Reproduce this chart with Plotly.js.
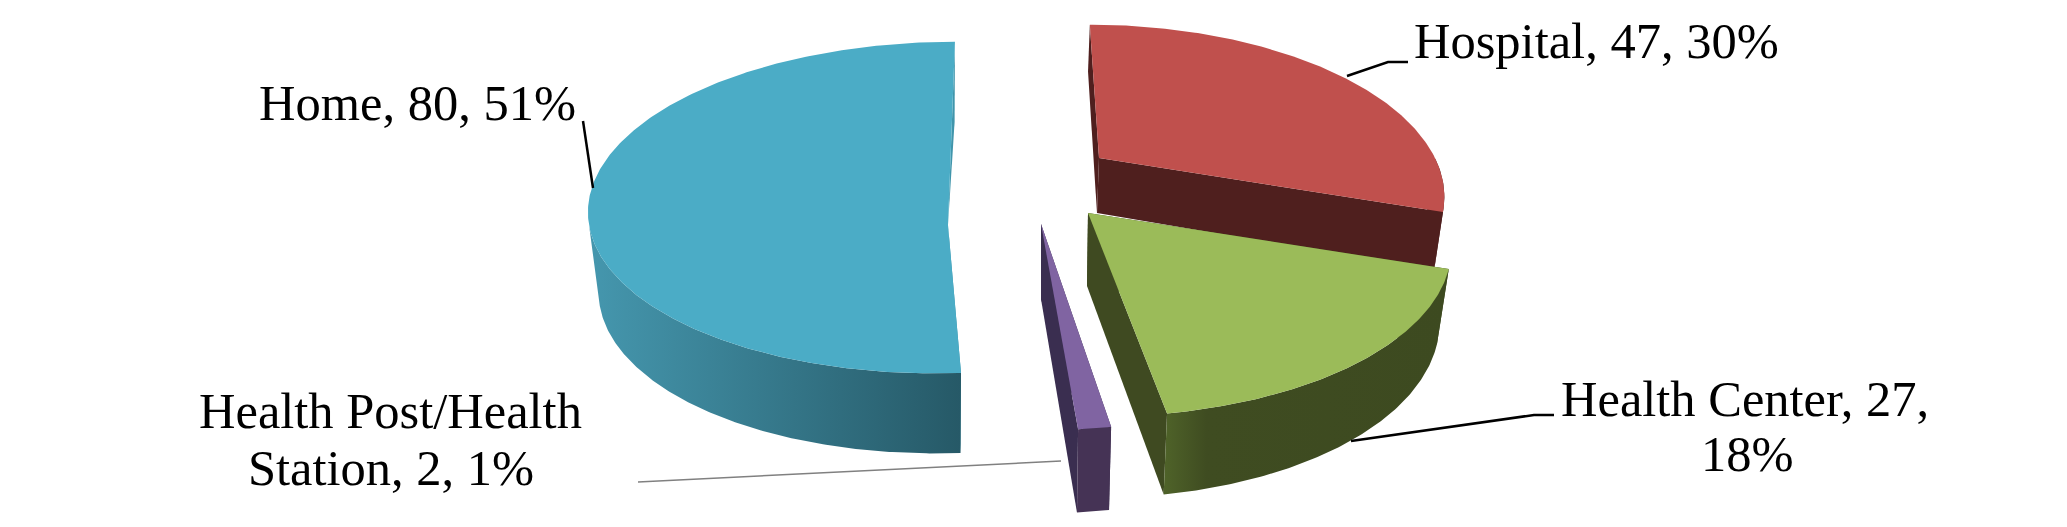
<!DOCTYPE html>
<html><head><meta charset="utf-8">
<script src="https://cdn.plot.ly/plotly-3.0.1.min.js"></script>
<style>html,body{margin:0;padding:0;background:#fff}</style></head>
<body><div id="chart" style="width:2067px;height:527px"></div>
<script>
// ---- data
const categories = ["Hospital", "Health Center", "Health Post/Health Station", "Home"];
const values = [47, 27, 2, 80];
const percents = [30, 18, 1, 51];

// ---- projection of each exploded wedge of the tilted 3D pie (pixels of the picture)
const notchX   = [1099, 1088, 1041, 948];
const notchY   = [158, 213, 224, 225];
const centerX  = [1099, 1088, 1041, 944];
const centerY  = [158, 213, 224, 225];
const baseX    = [1097, 1087, 1041, 944];
const baseY    = [213, 286, 299, 305];
const radiusX  = [336, 356, 341, 355];
const radiusY  = [160, 167, 169, 164];
const persp    = [0.2, 0.18, 0.18, -0.105];
const skew     = [-11, -8, -3, 9.8];
const baseSX   = [0.98, 0.97, 0.97, 0.97];
const baseSY   = [1.06, 1.04, 1.04, 1.0];
const cutStopsAtTop = [false, false, false, true];
const topColors  = ["#c0504d", "#9bbb59", "#8064a2", "#4bacc6"];
const wallScales = [
  [[0, "#4f1f1e"], [1, "#4f1f1e"]],
  [[0, "#4f6329"], [0.15, "#3f4c21"], [1, "#3d4a20"]],
  [[0, "#453355"], [1, "#453355"]],
  [[0, "#4597ae"], [1, "#265967"]]
];
const cutColors  = ["#4f1f1e", "#3f4a21", "#3a2e50", "#4095ab"];
const drawOrder  = [3, 0, 2, 1];

const total = values.reduce((a, b) => a + b, 0);
const startAngle = []; let acc = 0;
values.forEach(v => { startAngle.push(acc / total * 2 * Math.PI); acc += v; });
startAngle.push(2 * Math.PI);

function topPoint(i, t) {
  const u = Math.sin(t), v = Math.cos(t), w = 1 + persp[i] * v;
  return [centerX[i] + (radiusX[i] * u + skew[i] * v) / w, centerY[i] - radiusY[i] * v / w];
}
function basePoint(i, t) {
  const u = Math.sin(t), v = Math.cos(t), w = 1 + persp[i] * v;
  return [baseX[i] + baseSX[i] * (radiusX[i] * u + skew[i] * v) / w, baseY[i] - baseSY[i] * radiusY[i] * v / w];
}
function poly(points, extra) {
  return Object.assign({
    type: "scatter", mode: "lines", x: points.map(p => p[0]), y: points.map(p => p[1]),
    fill: "toself", line: { width: 0 }, hoverinfo: "skip", showlegend: false
  }, extra);
}
function angles(a, b) {
  const n = Math.max(2, Math.ceil((b - a) / 0.01)), r = [];
  for (let k = 0; k <= n; k++) r.push(a + (b - a) * k / n);
  return r;
}

const traces = [];
drawOrder.forEach(i => {
  const a = startAngle[i], b = startAngle[i + 1];
  const c1 = [notchX[i], notchY[i]];
  const c2 = cutStopsAtTop[i] ? c1 : [baseX[i], baseY[i]];
  // cut faces
  [a, b].forEach(t => traces.push(poly([c1, topPoint(i, t), basePoint(i, t), c2], { fillcolor: cutColors[i], name: categories[i] })));
  // outer rim (front half only)
  const front = angles(a, b).filter(t => Math.cos(t) <= 0);
  if (front.length > 1) {
    traces.push(poly(front.map(t => topPoint(i, t)).concat(front.slice().reverse().map(t => basePoint(i, t))), {
      name: categories[i], fillcolor: wallScales[i][0][1],
      fillgradient: { type: "horizontal", colorscale: wallScales[i] }
    }));
  }
  // top face
  traces.push(poly([c1].concat(angles(a, b).map(t => topPoint(i, t))), { fillcolor: topColors[i], name: categories[i] }));
});

// ---- labels, one entry per printed line
const labelLines = ["Hospital, 47, 30%", "Health Center, 27,", "18%", "Health Post/Health", "Station, 2, 1%", "Home, 80, 51%"];
const labelX = [1596, 1745, 1747, 390, 391, 417];
const labelY = [41, 399, 454, 411, 468, 103];
const annotations = labelLines.map((t, k) => ({
  text: t, x: labelX[k], y: labelY[k], xref: "x", yref: "y", showarrow: false,
  xanchor: "center", yanchor: "middle", font: { family: "Liberation Serif", size: 50.5, color: "#000" }
}));

// ---- leader lines
const leaderPaths = ["M583 121 L593 188", "M1347 76 L1388 62 L1408 62", "M1351 441 L1534 415 L1554 415", "M638 482 L1061 461"];
const leaderColors = ["#000", "#000", "#000", "#808080"];
const shapes = leaderPaths.map((p, k) => ({
  type: "path", path: p, xref: "x", yref: "y", layer: "above",
  line: { color: leaderColors[k], width: k === 3 ? 1.5 : 2.5 }
}));

const hidden = { visible: false, fixedrange: true };
Plotly.newPlot("chart", traces, {
  width: 2067, height: 527, margin: { l: 0, r: 0, t: 0, b: 0 },
  paper_bgcolor: "#fff", plot_bgcolor: "#fff", showlegend: false,
  xaxis: Object.assign({ range: [0, 2067] }, hidden),
  yaxis: Object.assign({ range: [527, 0] }, hidden),
  annotations, shapes
}, { displayModeBar: false, staticPlot: true });
</script></body></html>
